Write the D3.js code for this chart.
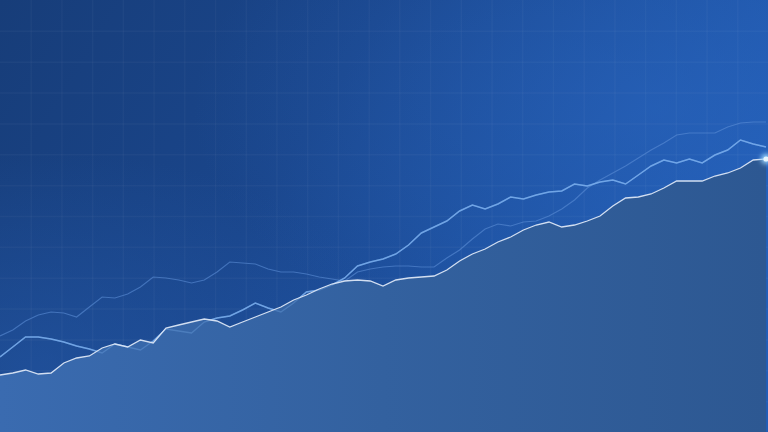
<!DOCTYPE html>
<html>
<head>
<meta charset="utf-8">
<script src="https://cdn.jsdelivr.net/npm/d3@7"></script>
<style>
html,body{margin:0;padding:0;background:#173b76;overflow:hidden;}
svg{display:block;}
</style>
</head>
<body>
<svg id="chart" width="768" height="432"></svg>
<script>
// ---- data (values = height above the bottom edge) ----
const steps = d3.range(61); // x index 0..60
const frontSeries = [57,59,62,58,59,69,74,76,84,88,85,92,89,104,107,110,113,111,105,110,115,120,125,132,137,143,148,151,152,151,146,152,154,155,156,162,171,178,183,190,195,202,207,210,205,207,211,216,226,234,235,238,244,251,251,251,256,259,264,272,273];
const midSeries   = [75,85,95,95,93,90,86,83,79,88,85,82,91,103,101,99,110,114,116,122,129,124,120,129,140,142,147,154,166,170,173,178,187,199,205,211,221,227,223,228,235,233,237,240,241,248,246,250,252,248,257,266,272,269,273,269,277,282,292,288,285];
const backSeries  = [96,102,111,117,120,119,115,125,135,134,138,145,155,154,152,149,152,160,170,169,168,163,160,160,158,155,153,151,160,163,165,166,166,165,165,174,182,193,203,208,206,210,211,216,223,232,244,252,259,266,274,282,289,297,299,299,299,305,309,310,310];
const gridCols = d3.range(1, 25);
const gridRows = d3.range(1, 14);

const W = 768, H = 432;
const svg = d3.select('#chart');
const defs = svg.append('defs');

// background gradients
const bg = defs.append('linearGradient').attr('id','bg').attr('x1','0').attr('y1','0').attr('x2','1').attr('y2','0.35');
bg.append('stop').attr('offset','0').attr('stop-color','#173d79');
bg.append('stop').attr('offset','0.45').attr('stop-color','#1a468c');
bg.append('stop').attr('offset','1').attr('stop-color','#225db5');
const glow = defs.append('radialGradient').attr('id','glow').attr('cx','0.85').attr('cy','0.25').attr('r','0.6');
glow.append('stop').attr('offset','0').attr('stop-color','#2a66c0').attr('stop-opacity',0.5);
glow.append('stop').attr('offset','1').attr('stop-color','#2a66c0').attr('stop-opacity',0);
const lowLeft = defs.append('radialGradient').attr('id','lowLeft').attr('cx','0.05').attr('cy','0.85').attr('r','0.5');
lowLeft.append('stop').attr('offset','0').attr('stop-color','#2356a4').attr('stop-opacity',0.6);
lowLeft.append('stop').attr('offset','1').attr('stop-color','#2356a4').attr('stop-opacity',0);

const fillG = defs.append('linearGradient').attr('id','fillG').attr('x1','0').attr('y1','0').attr('x2','1').attr('y2','0');
fillG.append('stop').attr('offset','0').attr('stop-color','#3a6bb0');
fillG.append('stop').attr('offset','0.5').attr('stop-color','#33619f');
fillG.append('stop').attr('offset','1').attr('stop-color','#2d5892');

const blur = defs.append('filter').attr('id','blur').attr('x','-200%').attr('y','-200%').attr('width','500%').attr('height','500%');
blur.append('feGaussianBlur').attr('stdDeviation',2.5);

svg.append('rect').attr('width',W).attr('height',H).attr('fill','url(#bg)');
svg.append('rect').attr('width',W).attr('height',H).attr('fill','url(#glow)');
svg.append('rect').attr('width',W).attr('height',H).attr('fill','url(#lowLeft)');

// scales
const x = d3.scaleLinear().domain([0, 60]).range([0, 766]);
const y = d3.scaleLinear().domain([0, H]).range([H, 0]);
const gx = d3.scaleLinear().domain([0, 25]).range([0, W]);
const gy = d3.scaleLinear().domain([0, 14]).range([0, H]);

// grid
const gridG = svg.append('g').attr('class','grid');
gridG.append('g').attr('transform',`translate(0,${H})`)
  .call(d3.axisBottom(gx).tickValues(gridCols).tickSize(-H).tickFormat(''))
  .call(g => g.select('.domain').remove());
gridG.append('g')
  .call(d3.axisLeft(gy).tickValues(gridRows).tickSize(-W).tickFormat(''))
  .call(g => g.select('.domain').remove());
gridG.selectAll('line').attr('stroke','#ffffff').attr('stroke-opacity',0.032).attr('stroke-width',1.5);

const line = d3.line().x((d,i) => x(steps[i])).y(d => y(d));
const area = d3.area().x((d,i) => x(steps[i])).y0(H).y1(d => y(d));

// back line
svg.append('path').datum(backSeries).attr('d', line)
  .attr('fill','none').attr('stroke','#5b8ed6').attr('stroke-opacity',0.6).attr('stroke-width',1.2);
// middle line
svg.append('path').datum(midSeries).attr('d', line)
  .attr('fill','none').attr('stroke','#78acec').attr('stroke-opacity',0.85).attr('stroke-width',1.5);
// area under front line
svg.append('path').datum(frontSeries).attr('d', area).attr('fill','url(#fillG)');
// middle line visible through fill (faint)
svg.append('path').datum(midSeries).attr('d', line)
  .attr('fill','none').attr('stroke','#7fb3f0').attr('stroke-opacity',0.3).attr('stroke-width',1.4);
// front line
svg.append('path').datum(frontSeries).attr('d', line)
  .attr('fill','none').attr('stroke','#dbe6f6').attr('stroke-opacity',0.95).attr('stroke-width',1.3);

// glowing end point
const last = frontSeries.length - 1;
svg.append('circle').attr('cx', x(steps[last])).attr('cy', y(frontSeries[last])).attr('r', 5)
  .attr('fill','#9fd8ff').attr('filter','url(#blur)');
svg.append('circle').attr('cx', x(steps[last])).attr('cy', y(frontSeries[last])).attr('r', 2.6)
  .attr('fill','#e6f6ff');
</script>
</body>
</html>
